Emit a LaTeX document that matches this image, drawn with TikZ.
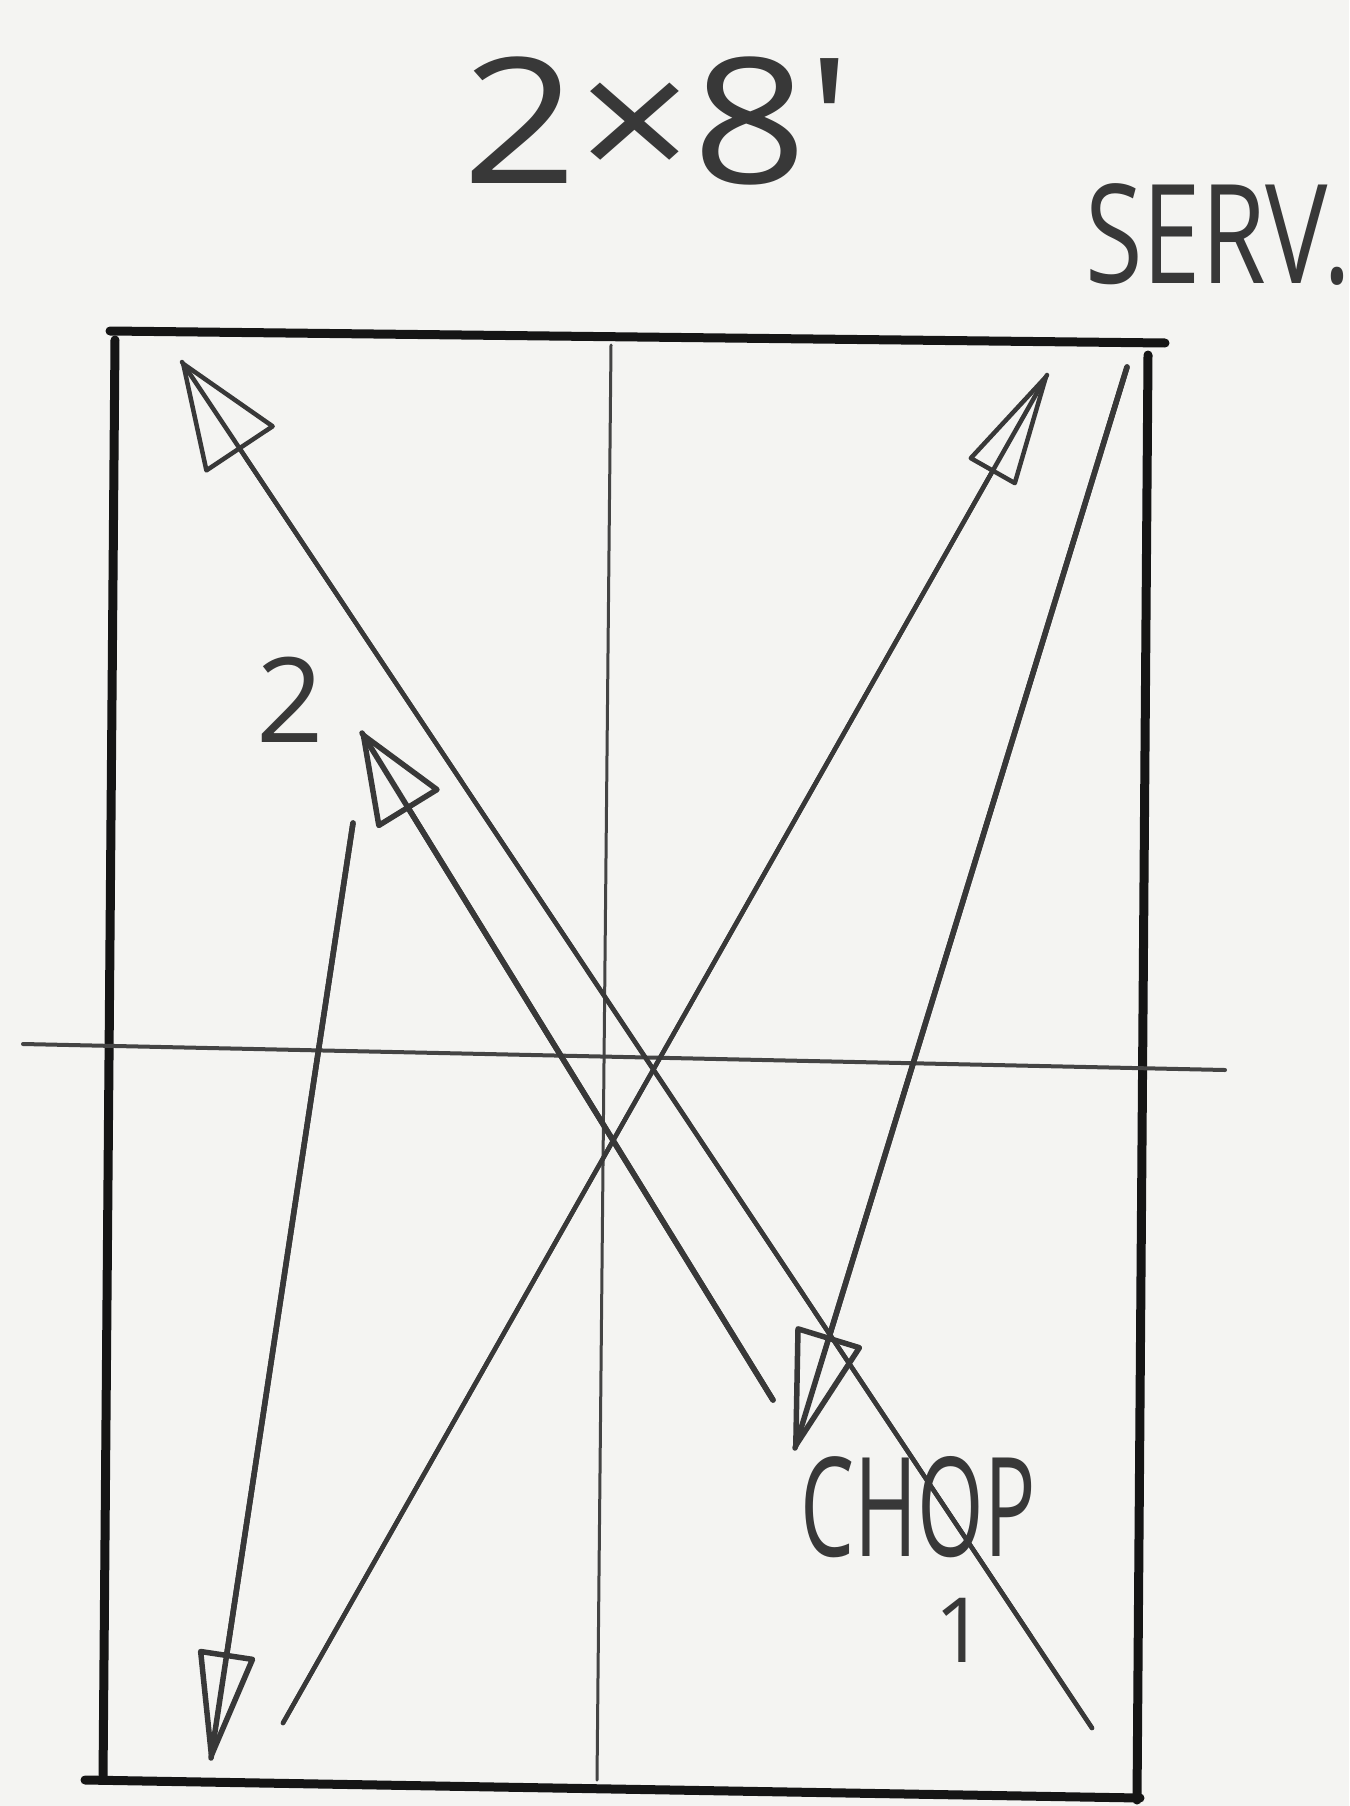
\documentclass[tikz,border=0pt]{standalone}
\usepackage{fontspec}
\usepackage{graphicx}
\setmainfont{Open Sans}
\usetikzlibrary{arrows.meta}
\definecolor{paper}{HTML}{F4F4F2}
\definecolor{ink}{HTML}{151515}
\definecolor{pencil}{HTML}{383838}
\definecolor{mid}{HTML}{444444}
\tikzset{
  border/.style={draw=ink, line width=9pt, line cap=round},
  centre/.style={draw=mid, line width=4pt, line cap=round},
  stroke/.style={draw=pencil, line width=5.5pt, line cap=round, line join=round},
  hand/.style={text=pencil, inner sep=0pt},
}
\begin{document}
\begin{tikzpicture}[x=1pt,y=-1pt]
\useasboundingbox (0,0) rectangle (1349,1806);
\fill[paper] (0,0) rectangle (1349,1806);

% table outline
\coordinate (tl1) at (110,331);
\coordinate (tr1) at (1165,343);
\coordinate (tl2) at (115,340);
\coordinate (bl2) at (103,1780);
\coordinate (tr2) at (1148,355);
\coordinate (br2) at (1137,1800);
\coordinate (bl1) at (85,1780);
\coordinate (br1) at (1140,1798);
\draw[border] (tl1) -- (tr1);
\draw[border] (tl2) -- (bl2);
\draw[border] (tr2) -- (br2);
\draw[border] (bl1) -- (br1);

% centre lines
\coordinate (vt) at (611,345);
\coordinate (vb) at (597,1780);
\coordinate (hl) at (23,1044);
\coordinate (hr) at (1225,1070);
\draw[centre, line width=3pt] (vt) -- (vb);
\draw[centre] (hl) -- (hr);

% arrow 1: long diagonal to top left
\coordinate (a1s) at (1092,1728);
\coordinate (a1e) at (182,362);
\draw[stroke, line width=4.5pt] (a1s) -- (a1e);
\draw[stroke, line width=4.5pt, -{Triangle[open,length=110pt,width=85pt,round]}] (a1s) -- (a1e);

% arrow 2: shorter diagonal to top left
\coordinate (a2s) at (773,1400);
\coordinate (a2e) at (362,733);
\draw[stroke] (a2s) -- (a2e);
\draw[stroke, -{Triangle[open,length=95pt,width=75pt,round]}] (a2s) -- (a2e);

% arrow 3: bottom left to top right
\coordinate (a3s) at (283,1723);
\coordinate (a3e) at (1047,375);
\draw[stroke, line width=4.5pt] (a3s) -- (a3e);
\draw[stroke, line width=4.5pt, -{Triangle[open,length=120pt,width=55pt,round]}] (a3s) -- (a3e);

% arrow 4: top right down
\coordinate (a4s) at (1127,367);
\coordinate (a4e) at (795,1448);
\draw[stroke] (a4s) -- (a4e);
\draw[stroke, -{Triangle[open,length=125pt,width=70pt,round]}] (a4s) -- (a4e);

% arrow 5: left, down
\coordinate (a5s) at (353,823);
\coordinate (a5e) at (211,1758);
\draw[stroke] (a5s) -- (a5e);
\draw[stroke, -{Triangle[open,length=115pt,width=58pt,round]}] (a5s) -- (a5e);

% labels
\node[hand, anchor=base] (title) at (657,184)
  {\scalebox{1.15}[1]{\fontsize{175}{175}\selectfont 2×8\textquotesingle}};
\node[hand, anchor=base west] (serv) at (1085,283)
  {\scalebox{0.76}[1]{\fontsize{138}{138}\selectfont SERV.}};
\node[hand] (two) at (290,700)
  {\fontsize{118}{118}\selectfont 2};
\node[hand, anchor=base] (chop) at (918,1556)
  {\scalebox{0.62}[1]{\fontsize{138}{138}\selectfont CHOP}};
\node[hand] (one) at (960,1630)
  {\fontsize{90}{90}\selectfont 1};
\end{tikzpicture}
\end{document}
